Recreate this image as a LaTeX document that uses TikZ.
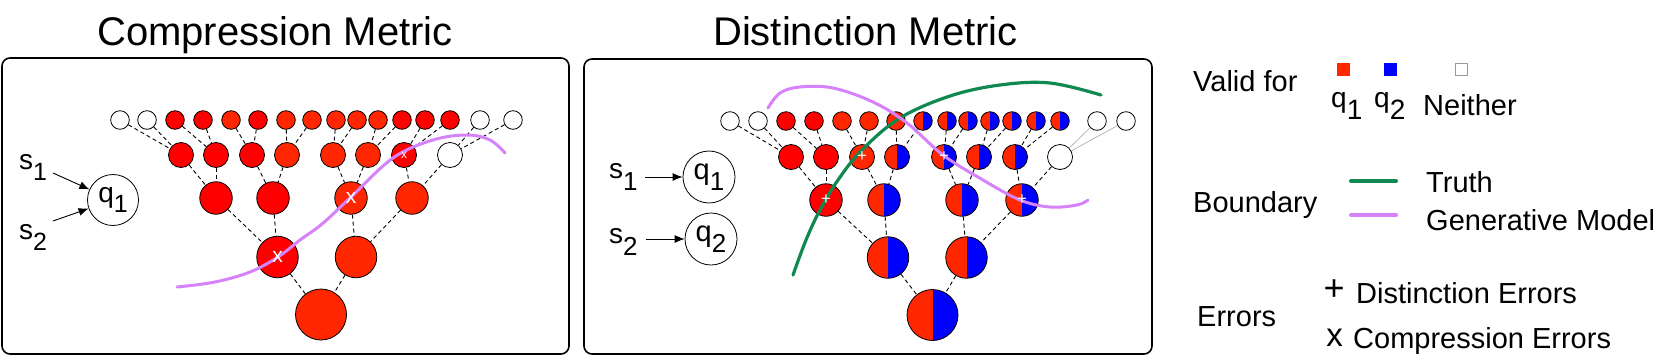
\documentclass[tikz,border=0pt]{standalone}
\usepackage{fontspec}
\setmainfont{Liberation Sans}
\usetikzlibrary{arrows.meta}
\definecolor{redA}{RGB}{255,0,0}
\definecolor{redB}{RGB}{255,38,0}
\definecolor{blueA}{RGB}{0,0,255}
\definecolor{purp}{RGB}{214,130,250}
\definecolor{grn}{RGB}{16,137,80}
\newcommand\labx[5]{{\fontsize{#3}{#3}\selectfont #1}\raisebox{-#5pt}{\fontsize{#4}{#4}\selectfont #2}}
\newcommand\fs[1]{\fontsize{#1}{#1}\selectfont}
\begin{document}
\begin{tikzpicture}[x=1pt,y=-1pt,
  panel/.style={draw, line width=1.6pt, rounded corners=8pt},
  tnode/.style={circle, draw, line width=0.8pt, inner sep=0pt},
  nW/.style={tnode, fill=white},
  nR/.style={tnode, fill=redA},
  nO/.style={tnode, fill=redB},
  nH/.style={tnode, fill=redB, path picture={\fill[blueA] (path picture bounding box.north) rectangle (path picture bounding box.south east);}},
  szA/.style={minimum size=18.6pt},
  szB/.style={minimum size=25pt},
  szC/.style={minimum size=32.5pt},
  szD/.style={minimum size=41.5pt},
  szE/.style={minimum size=51pt},
  dedge/.style={draw=black, line width=0.9pt, dash pattern=on 4pt off 3pt},
  gedge/.style={draw=gray!70, line width=0.6pt},
  arr/.style={line width=0.9pt, -{Latex[length=10pt,width=8pt]}},
  mk/.style={text=white, inner sep=0pt},
  qnode/.style={circle, draw, line width=0.8pt, inner sep=0pt, minimum size=51pt},
  txt/.style={anchor=base west, inner sep=0pt},
  legtxt/.style={anchor=base west, inner sep=0pt, font=\fs{29}},
  purpline/.style={draw=purp, line width=3pt, line cap=round},
  grnline/.style={draw=grn, line width=3.2pt, line cap=round}
]
\useasboundingbox (0,0) rectangle (1661,362);

% titles
\node[txt, font=\fs{40}] (t1) at (97,45) {Compression Metric};
\node[txt, font=\fs{40}] (t2) at (713,45) {Distinction Metric};

% panels
\draw[panel] (2,58) rectangle (569,354);
\draw[panel] (584,59) rectangle (1152,354);

% ---------------- left panel ----------------
\foreach \x/\st [count=\i] in {120/nW,147/nW,175/nR,203/nR,231/nO,258/nR,286/nO,312/nO,336/nO,357/nO,378/nO,402/nR,425/nR,450/nR,480/nW,513/nW}
  \node[\st, szA] (la\i) at (\x,120) {};
\foreach \x/\st [count=\i] in {181/nR,216/nR,252/nR,287/nO,333/nO,368/nO,404/nR,450/nW}
  \node[\st, szB] (lb\i) at (\x,155) {};
\foreach \x/\st [count=\i] in {216/nR,273/nR,351/nO,412/nO}
  \node[\st, szC] (lc\i) at (\x,198) {};
\node[nR, szD] (ld1) at (277.5,257) {};
\node[nO, szD] (ld2) at (356,257) {};
\node[nO, szE] (le) at (321,314.5) {};

\foreach \i in {1,...,8}{
  \pgfmathtruncatemacro\a{2*\i-1}
  \pgfmathtruncatemacro\b{2*\i}
  \draw[dedge] (la\a) -- (lb\i);
  \draw[dedge] (la\b) -- (lb\i);
}
\foreach \i in {1,...,4}{
  \pgfmathtruncatemacro\a{2*\i-1}
  \pgfmathtruncatemacro\b{2*\i}
  \draw[dedge] (lb\a) -- (lc\i);
  \draw[dedge] (lb\b) -- (lc\i);
}
\draw[dedge] (lc1) -- (ld1);
\draw[dedge] (lc2) -- (ld1);
\draw[dedge] (lc3) -- (ld2);
\draw[dedge] (lc4) -- (ld2);
\draw[dedge] (ld1) -- (le);
\draw[dedge] (ld2) -- (le);

% states left
\node[qnode] (lq1) at (113,200) {\labx{q}{1}{28}{25}{10}};
\node[txt] (ls1) at (19,169) {\labx{s}{1}{28}{25}{11}};
\node[txt] (ls2) at (19,239) {\labx{s}{2}{28}{25}{11}};
\coordinate (ls1a) at (53,173);
\coordinate (ls2a) at (53,221);
\draw[arr] (ls1a) -- (lq1);
\draw[arr] (ls2a) -- (lq1);

% purple boundary left
\draw[purpline] plot[smooth, tension=0.6] coordinates {(177,287) (215,282) (250,272) (278,257) (300,240) (322,224) (350,198) (393,158) (433,140) (467,135) (490,140) (505,153)};

\node[mk, font=\fs{12}] (mx1) at (lb7) {x};
\node[mk, font=\fs{21}] (mx2) at (lc3) {x};
\node[mk, font=\fs{21}] (mx3) at (ld1) {x};

% ---------------- right panel ----------------
\foreach \x/\st [count=\i] in {730/nW,758/nW,786/nR,814/nR,842/nO,869/nO,896/nO,923/nH,947/nH,968/nH,990/nH,1012/nH,1036/nH,1060/nH,1097/nW,1126/nW}
  \node[\st, szA] (ra\i) at (\x,121) {};
\foreach \x/\st [count=\i] in {791/nR,826/nR,862/nO,897/nH,944/nH,979/nH,1015/nH,1060/nW}
  \node[\st, szB] (rb\i) at (\x,157) {};
\foreach \x/\st [count=\i] in {826/nR,884/nH,962/nH,1022/nH}
  \node[\st, szC] (rc\i) at (\x,200) {};
\node[nH, szD] (rd1) at (888,257.5) {};
\node[nH, szD] (rd2) at (966.5,257.5) {};
\node[nH, szE] (re) at (932.5,315) {};

\foreach \i in {1,...,7}{
  \pgfmathtruncatemacro\a{2*\i-1}
  \pgfmathtruncatemacro\b{2*\i}
  \draw[dedge] (ra\a) -- (rb\i);
  \draw[dedge] (ra\b) -- (rb\i);
}
\draw[gedge] (ra15) -- (rb8);
\draw[gedge] (ra16) -- (rb8);
\foreach \i in {1,...,4}{
  \pgfmathtruncatemacro\a{2*\i-1}
  \pgfmathtruncatemacro\b{2*\i}
  \draw[dedge] (rb\a) -- (rc\i);
  \draw[dedge] (rb\b) -- (rc\i);
}
\draw[dedge] (rc1) -- (rd1);
\draw[dedge] (rc2) -- (rd1);
\draw[dedge] (rc3) -- (rd2);
\draw[dedge] (rc4) -- (rd2);
\draw[dedge] (rd1) -- (re);
\draw[dedge] (rd2) -- (re);

% states right
\node[qnode, minimum size=52pt] (rq1) at (709,177) {\labx{q}{1}{29}{26}{11}};
\node[qnode, minimum size=52pt] (rq2) at (711,239) {\labx{q}{2}{29}{26}{11}};
\node[txt] (rs1) at (609,178) {\labx{s}{1}{28}{26}{12}};
\node[txt] (rs2) at (609,243) {\labx{s}{2}{28}{26}{12}};
\coordinate (rs1a) at (645,177);
\coordinate (rs2a) at (646,239);
\draw[arr] (rs1a) -- (rq1);
\draw[arr] (rs2a) -- (rq2);

% boundaries right
\draw[grnline] plot[smooth, tension=0.6] coordinates {(793,275) (806,240) (820,210) (838,180) (862,150) (900,118) (950,96) (1000,85) (1050,83) (1101,95)};
\draw[purpline] plot[smooth, tension=0.6] coordinates {(768,108) (780,93) (800,87) (833,88) (873,102) (907,123) (943,155) (983,180) (1020,200) (1050,207) (1077,205) (1088,200)};

\node[mk, font=\fs{17}] (mp1) at (rb3) {+};
\node[mk, font=\fs{17}] (mp2) at (rb5) {+};
\node[mk, font=\fs{17}] (mp3) at (rc1) {+};
\node[mk, font=\fs{17}] (mp4) at (rc4) {+};

% ---------------- legend ----------------
\node[legtxt] (lv) at (1193,91) {Valid for};
\node[fill=redB, minimum size=13pt, inner sep=0pt] (sq1) at (1343.5,69) {};
\node[fill=blueA, minimum size=13pt, inner sep=0pt] (sq2) at (1390.5,69) {};
\node[draw=gray!80, line width=1pt, fill=white, minimum size=12pt, inner sep=0pt] (sq3) at (1461,69) {};
\node[txt] (lq1t) at (1331,107) {\labx{q}{1}{28}{28}{12}};
\node[txt] (lq2t) at (1374,107) {\labx{q}{2}{28}{28}{12}};
\node[legtxt] (lnei) at (1423,115) {Neither};

\node[legtxt] (lbd) at (1193,212) {Boundary};
\coordinate (g1) at (1351,181);
\coordinate (g2) at (1396,181);
\coordinate (p1) at (1351,215);
\coordinate (p2) at (1396,215);
\draw[grnline, line width=4pt] (g1) -- (g2);
\draw[purpline, line width=4pt] (p1) -- (p2);
\node[legtxt] (ltr) at (1426,192) {Truth};
\node[legtxt] (lgm) at (1426,230) {Generative Model};

\node[legtxt] (ler) at (1197,326) {Errors};
\node[inner sep=0pt, font=\fs{36}] (lplus) at (1334,290) {+};
\node[legtxt] (lde) at (1356,303) {Distinction Errors};
\node[inner sep=0pt, font=\fs{33}] (lx) at (1334.5,338) {x};
\node[legtxt] (lce) at (1353,348) {Compression Errors};
\end{tikzpicture}
\end{document}
